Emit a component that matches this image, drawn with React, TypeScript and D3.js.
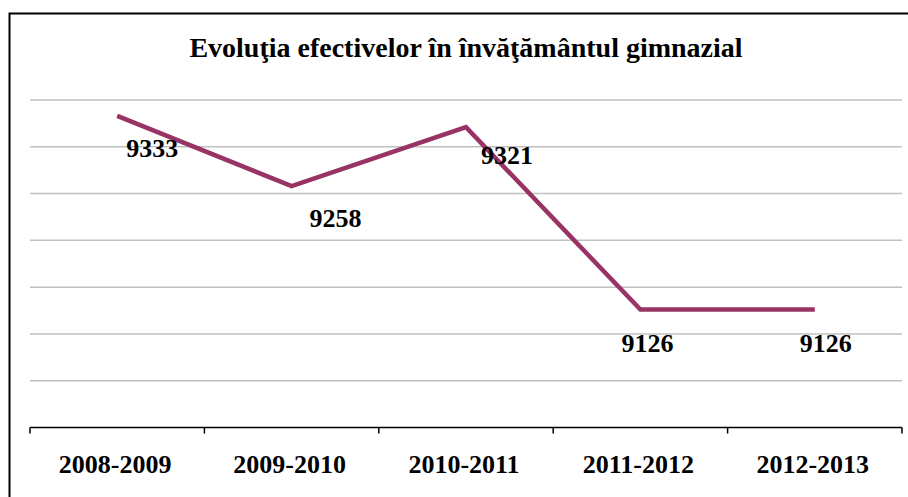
import * as d3 from 'd3'

const years = ['2008-2009', '2009-2010', '2010-2011', '2011-2012', '2012-2013']
const pupils = [9333, 9258, 9321, 9126, 9126]
const gridValues = [9050, 9100, 9150, 9200, 9250, 9300, 9350]
// label nudges, as Excel placed them
const labelDx = [35, 44, 41, 7, 11]
const labelDy = [42, 42, 38, 43, 43]

const W = 908
const H = 497
const font = '"Liberation Serif", "Times New Roman", serif'

export default function App() {
  const margin = { left: 30, right: 6, top: 100, bottom: 69.5 }
  const x = d3
    .scaleBand()
    .domain(years)
    .range([margin.left, W - margin.right])
  const y = d3
    .scaleLinear()
    .domain([9000, 9350])
    .range([H - margin.bottom, margin.top])

  const cx = (d: string) => (x(d) ?? 0) + x.bandwidth() / 2
  const pts = years.map((d, i) => [cx(d), y(pupils[i])] as [number, number])
  const line = d3.line()(pts) ?? ''
  const ticks = [...years.map(d => x(d) ?? 0), W - margin.right]

  return (
    <svg
      width={W}
      height={H}
      style={{ position: 'absolute', left: 0, top: 0, background: '#fff' }}
    >
      <rect x={9.5} y={13.5} width={1000} height={1000} fill="#fff" stroke="#000" strokeWidth={2} />
      <text
        x={466}
        y={57}
        textAnchor="middle"
        fontFamily={font}
        fontWeight="bold"
        fontSize={28}
      >
        Evoluţia efectivelor în învăţământul gimnazial
      </text>
      {gridValues.map(v => (
        <line
          key={v}
          x1={margin.left}
          x2={W - margin.right}
          y1={y(v)}
          y2={y(v)}
          stroke="#c0c0c0"
          strokeWidth={1.5}
        />
      ))}
      <line
        x1={margin.left}
        x2={W - margin.right}
        y1={y(9000)}
        y2={y(9000)}
        stroke="#000"
        strokeWidth={1.5}
      />
      {ticks.map((t, i) => (
        <line key={i} x1={t} x2={t} y1={y(9000)} y2={y(9000) + 6} stroke="#000" strokeWidth={1.5} />
      ))}
      {years.map(d => (
        <text
          key={d}
          x={cx(d) - 2}
          y={473}
          textAnchor="middle"
          fontFamily={font}
          fontWeight="bold"
          fontSize={26}
        >
          {d}
        </text>
      ))}
      <path d={line} fill="none" stroke="#983465" strokeWidth={4.5} strokeLinejoin="miter" />
      {pts.map(([px, py], i) => (
        <text
          key={i}
          x={px + labelDx[i]}
          y={py + labelDy[i] - 1}
          textAnchor="middle"
          fontFamily={font}
          fontWeight="bold"
          fontSize={26}
        >
          {pupils[i]}
        </text>
      ))}
    </svg>
  )
}
